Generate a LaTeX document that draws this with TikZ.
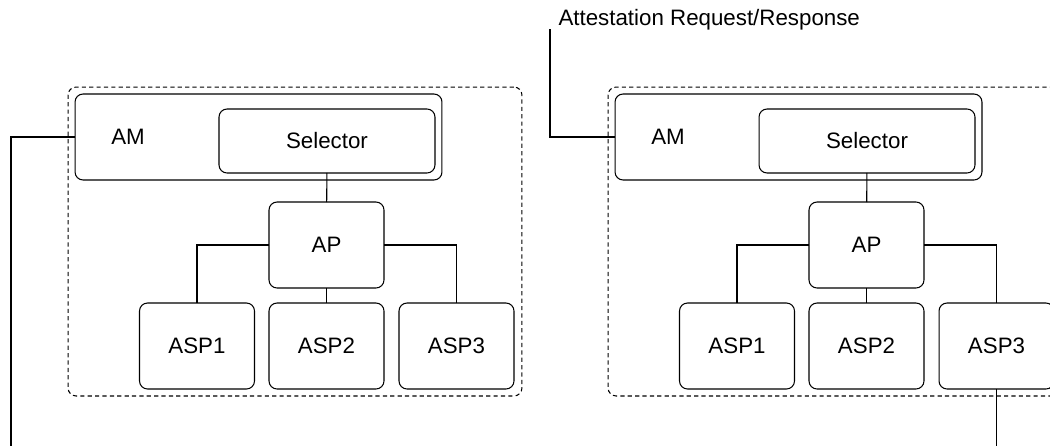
\documentclass[tikz,border=0pt]{standalone}
\usepackage{fontspec}
\setmainfont{Liberation Sans}

\begin{document}
\begin{tikzpicture}[x=0.02cm, y=-0.02cm, line width=0.6pt,
	box/.style={draw, rounded corners=0.16cm, inner sep=0pt, outer sep=0pt,
		minimum width=2.3cm, minimum height=1.72cm},
	group/.style={draw, dash pattern=on 2.4pt off 1.8pt, rounded corners=0.16cm, inner sep=0pt,
		minimum width=9.08cm, minimum height=6.18cm}]
	\fontsize{12.7}{15}\selectfont
	\useasboundingbox (0,0) rectangle (1050,446);
	\clip (0,0) rectangle (1050,446);

	\foreach \s/\g in {0/L,540/R}{
		\node[group] (grp\g) at (295+\s,241.5) {};
		\node[box, minimum width=7.34cm] (am\g) at (258.5+\s,137) {};
		\node[inner sep=0pt] (amtxt\g) at (128+\s,137) {AM};
		\node[box, minimum width=4.32cm, minimum height=1.28cm] (sel\g) at (327+\s,141) {Selector};
		\node[box] (ap\g) at (326.5+\s,245) {AP};
		\foreach \i/\x in {1/197,2/326.5,3/456.5}{
			\node[box] (asp\g\i) at (\x+\s,346) {ASP\i};
		}
		\draw (sel\g) -- (ap\g);
		\draw (ap\g.west) -| (asp\g1.north);
		\draw (ap\g) -- (asp\g2);
		\draw (ap\g.east) -| (asp\g3.north);
	}

	% links leaving the two machines
	\coordinate (leftEnd) at (11,446);
	\draw (amL.west) -| (leftEnd);
	\node[anchor=base west, inner sep=0pt] (req) at (558,26) {Attestation Request/Response};
	\coordinate (reqEnd) at (550,29);
	\draw (amR.west) -| (reqEnd);
	\coordinate (rightEnd) at (996.5,446);
	\draw (aspR3) -- (rightEnd);
\end{tikzpicture}
\end{document}
